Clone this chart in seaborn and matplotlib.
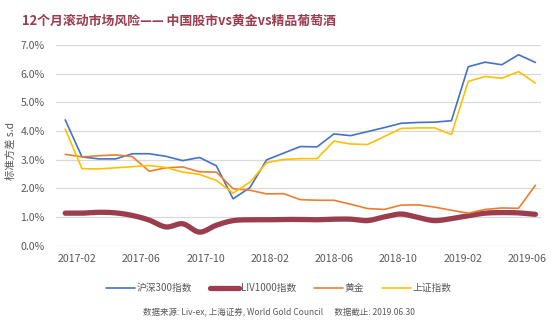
import numpy as np
import pandas as pd
import matplotlib
matplotlib.use("Agg")
import matplotlib.pyplot as plt
import seaborn as sns
from matplotlib.ticker import FuncFormatter
from matplotlib.lines import Line2D

# ---------------- data (monthly, 2017-02 .. 2019-06), values in % ----------------
months = pd.date_range("2017-02-01", "2019-06-01", freq="MS").strftime("%Y-%m").tolist()
hs300 = [4.39, 3.10, 3.03, 3.03, 3.21, 3.21, 3.12, 2.97, 3.08, 2.79, 1.64, 2.03, 3.00,
         3.23, 3.46, 3.45, 3.90, 3.84, 3.98, 4.12, 4.27, 4.30, 4.31, 4.36, 6.24, 6.40,
         6.31, 6.66, 6.39]
liv1000 = [1.14, 1.14, 1.17, 1.15, 1.06, 0.90, 0.66, 0.77, 0.48, 0.72, 0.88, 0.91, 0.91,
           0.92, 0.92, 0.91, 0.93, 0.93, 0.88, 1.01, 1.11, 0.99, 0.88, 0.95, 1.05, 1.14,
           1.16, 1.15, 1.10]
gold = [3.19, 3.10, 3.14, 3.17, 3.11, 2.60, 2.72, 2.75, 2.58, 2.57, 1.99, 1.94, 1.81,
        1.82, 1.61, 1.59, 1.59, 1.45, 1.30, 1.27, 1.42, 1.43, 1.35, 1.24, 1.14, 1.27,
        1.32, 1.31, 2.11]
shci = [4.07, 2.69, 2.68, 2.72, 2.76, 2.80, 2.73, 2.57, 2.49, 2.28, 1.84, 2.22, 2.90,
        3.01, 3.04, 3.04, 3.65, 3.55, 3.53, 3.81, 4.09, 4.11, 4.11, 3.88, 5.73, 5.90,
        5.84, 6.07, 5.67]
tick_labels = ["2017-02", "2017-06", "2017-10", "2018-02", "2018-06", "2018-10", "2019-02", "2019-06"]
series_names = ["沪深300指数", "LIV1000指数", "黄金", "上证指数"]
colors = ["#4472C4", "#9A3D4E", "#ED7D31", "#FFC000"]

title = "12个月滚动市场风险—— 中国股市vs黄金vs精品葡萄酒"
ylabel = "标准方差 s.d"
source = "数据来源: Liv-ex, 上海证券, World Gold Council      数据截止: 2019.06.30"

# ---------------- styling ----------------
sns.set_theme(style="white")
plt.rcParams["font.family"] = ["Noto Sans CJK SC", "DejaVu Sans"]

fig = plt.figure(figsize=(5.54, 3.21), dpi=100)
ax = fig.add_axes([0.101, 0.234, 0.876, 0.626])

idx = np.arange(len(months))
df = pd.DataFrame({"idx": idx, "hs300": hs300, "gold": gold, "shci": shci})


def catmull_rom(x, y, n=12):
    x = np.asarray(x, float)
    y = np.asarray(y, float)
    px = np.concatenate([[2 * x[0] - x[1]], x, [2 * x[-1] - x[-2]]])
    py = np.concatenate([[y[0]], y, [y[-1]]])
    xs, ys = [], []
    t = np.linspace(0, 1, n, endpoint=False)
    for i in range(1, len(px) - 2):
        p0, p1, p2, p3 = py[i - 1], py[i], py[i + 1], py[i + 2]
        q0, q1, q2, q3 = px[i - 1], px[i], px[i + 1], px[i + 2]
        for arr, a0, a1, a2, a3 in ((xs, q0, q1, q2, q3), (ys, p0, p1, p2, p3)):
            arr.extend(0.5 * ((2 * a1) + (-a0 + a2) * t + (2 * a0 - 5 * a1 + 4 * a2 - a3) * t ** 2
                              + (-a0 + 3 * a1 - 3 * a2 + a3) * t ** 3))
    xs.append(x[-1]); ys.append(y[-1])
    return np.array(xs), np.array(ys)


sx, sy = catmull_rom(idx, liv1000)
smooth = pd.DataFrame({"idx": sx, "v": sy})

sns.lineplot(data=df, x="idx", y="hs300", ax=ax, color=colors[0], linewidth=1.2)
sns.lineplot(data=smooth, x="idx", y="v", ax=ax, color=colors[1], linewidth=3.8)
sns.lineplot(data=df, x="idx", y="gold", ax=ax, color=colors[2], linewidth=1.2)
sns.lineplot(data=df, x="idx", y="shci", ax=ax, color=colors[3], linewidth=1.2)

ax.set_xlim(-0.55, len(months) - 0.65)
ax.set_ylim(0, 7.0)
ax.set_yticks(np.arange(0, 7.01, 1.0))
ax.yaxis.set_major_formatter(FuncFormatter(lambda v, p: f"{v:.1f}%"))
ax.set_xticks(np.linspace(0.7, 27.5, len(tick_labels)))
ax.set_xticklabels(tick_labels)
ax.tick_params(axis="both", length=0, labelsize=7.6, labelcolor="#595959")
ax.tick_params(axis="y", pad=8)
ax.tick_params(axis="x", pad=6)
ax.grid(axis="y", color="#D9D9D9", linewidth=0.9)
ax.set_axisbelow(True)
for s in ax.spines.values():
    s.set_visible(False)
ax.set_xlabel("")
ax.set_ylabel(ylabel, fontsize=7.5, color="#595959", labelpad=4)
ax.yaxis.set_label_coords(-0.083, 0.47)

fig.text(0.04, 0.935, title, fontsize=9.3, fontweight="bold", color="#9A3D4E", va="center", ha="left")

handles = [Line2D([0], [0], color=c, linewidth=(3.8 if i == 1 else 1.2)) for i, c in enumerate(colors)]
leg = fig.legend(handles, series_names, loc="center", bbox_to_anchor=(0.503, 0.102), ncol=4,
                 frameon=False, fontsize=7, handlelength=3.0, handletextpad=0.2, columnspacing=1.8,
                 labelcolor="#595959")

fig.text(0.503, 0.013, source, fontsize=6.1, color="#595959", ha="center", va="bottom")

fig.savefig("out.png", dpi=100)
